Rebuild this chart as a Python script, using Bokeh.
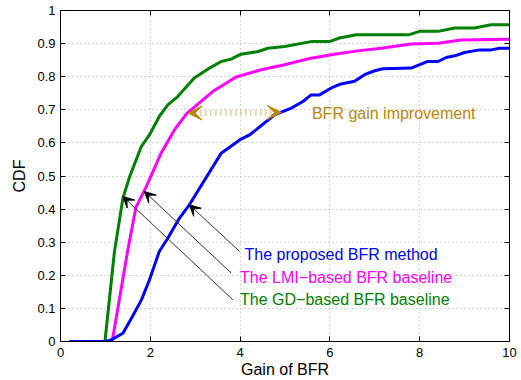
from bokeh.plotting import figure
from bokeh.models import Arrow, VeeHead, Label, LinearAxis, FixedTicker, Range1d
from bokeh.embed import file_html
from bokeh.resources import INLINE

# ---- data ----
x_ticks = [0, 2, 4, 6, 8, 10]
x_tick_labels = ["0", "2", "4", "6", "8", "10"]
y_ticks = [0, 0.1, 0.2, 0.3, 0.4, 0.5, 0.6, 0.7, 0.8, 0.9, 1.0]
y_tick_labels = ["0", "0.1", "0.2", "0.3", "0.4", "0.5", "0.6", "0.7", "0.8", "0.9", "1"]

proposed_x = [0.2, 1.0, 1.13, 1.39, 1.58, 1.80, 1.98, 2.2, 2.39, 2.65, 2.87, 3.58, 3.99,
              4.21, 4.36, 4.77, 4.92, 5.14, 5.40, 5.58, 5.77, 6.03, 6.25, 6.55, 6.77, 7.0,
              7.18, 7.81, 8.18, 8.41, 8.59, 8.78, 9.0, 9.33, 9.59, 9.78, 10.0]
proposed_y = [0, 0, 0.005, 0.025, 0.07, 0.125, 0.186, 0.272, 0.312, 0.373, 0.413, 0.569, 0.609,
              0.624, 0.64, 0.685, 0.693, 0.705, 0.725, 0.745, 0.745, 0.766, 0.778, 0.786, 0.806, 0.818,
              0.824, 0.826, 0.846, 0.846, 0.858, 0.863, 0.873, 0.881, 0.881, 0.886, 0.886]

lmi_x = [0.2, 1.15, 1.31, 1.50, 1.68, 1.91, 2.24, 2.54, 2.82, 3.39, 3.91, 4.47, 4.99, 5.58,
         6.1, 6.62, 7.14, 7.81, 8.41, 8.92, 10.0]
lmi_y = [0, 0, 0.126, 0.277, 0.405, 0.468, 0.569, 0.64, 0.69, 0.755, 0.799, 0.821, 0.836, 0.856,
         0.868, 0.878, 0.886, 0.899, 0.901, 0.911, 0.913]

gd_x = [0.2, 0.99, 1.2, 1.39, 1.54, 1.80, 1.98, 2.2, 2.39, 2.61, 2.98, 3.32, 3.58, 3.80, 4.02,
        4.40, 4.62, 4.99, 5.58, 5.99, 6.21, 6.59, 7.77, 8.0, 8.41, 8.78, 9.22, 9.59, 10.0]
gd_y = [0, 0, 0.27, 0.433, 0.498, 0.589, 0.624, 0.68, 0.715, 0.74, 0.796, 0.826, 0.846, 0.853, 0.868,
        0.876, 0.886, 0.891, 0.906, 0.906, 0.917, 0.927, 0.927, 0.937, 0.937, 0.947, 0.947, 0.957, 0.957]

series_names = ["The proposed BFR method", "The LMI\u2212based BFR baseline", "The GD\u2212based BFR baseline"]
improvement_text = "BFR gain improvement"

# annotation anchors (data coords)
improve_arrow = [(4.92, 0.692), (2.84, 0.69)]
improve_label = (5.6, 0.69)
name_label_pos = [(4.1, 0.262), (4.0, 0.193), (4.0, 0.126)]
pointer_tails = [(3.99, 0.272), (3.80, 0.207), (3.84, 0.126)]
pointer_tips = [(2.87, 0.413), (1.87, 0.453), (1.39, 0.438)]

colors = ["#0000ff", "#ff00ff", "#008000"]
FONT = "Liberation Sans"

p = figure(width=521, height=380, output_backend="svg", toolbar_location=None,
           x_range=Range1d(0, 10), y_range=Range1d(0, 1),
           min_border_left=60, min_border_right=12, min_border_top=10, min_border_bottom=38)
p.background_fill_color = "white"
p.outline_line_color = "black"
p.outline_line_width = 1

# curves (blue drawn on top)
p.line(gd_x, gd_y, line_color=colors[2], line_width=3)
p.line(lmi_x, lmi_y, line_color=colors[1], line_width=3)
p.line(proposed_x, proposed_y, line_color=colors[0], line_width=3)

# axes styling
def style_axis(ax, ticks, labels, show_labels=True, standoff=4):
    ax.ticker = FixedTicker(ticks=ticks)
    ax.major_label_overrides = {t: l for t, l in zip(ticks, labels)}
    ax.major_tick_in = 5
    ax.major_tick_out = 0
    ax.minor_tick_line_color = None
    ax.axis_line_color = "black"
    ax.major_tick_line_color = "black"
    ax.major_label_text_font = FONT
    ax.major_label_text_font_size = "13px" if show_labels else "0px"
    ax.major_label_text_color = "black"
    ax.major_label_standoff = standoff

xa = p.xaxis[0]
ya = p.yaxis[0]
style_axis(xa, x_ticks, x_tick_labels, standoff=6)
style_axis(ya, y_ticks, y_tick_labels, standoff=5)
xa.axis_label = "Gain of BFR"
ya.axis_label = "CDF"
for ax in (xa, ya):
    ax.axis_label_text_font = FONT
    ax.axis_label_text_font_size = "16px"
    ax.axis_label_text_font_style = "normal"
    ax.axis_label_text_color = "black"
xa.axis_label_standoff = 1
ya.axis_label_standoff = 6

top_ax = LinearAxis()
right_ax = LinearAxis()
style_axis(top_ax, x_ticks, [""] * len(x_ticks), show_labels=False, standoff=0)
style_axis(right_ax, y_ticks, [""] * len(y_ticks), show_labels=False, standoff=0)
p.add_layout(top_ax, "above")
p.add_layout(right_ax, "right")

p.xgrid.ticker = FixedTicker(ticks=x_ticks)
p.ygrid.ticker = FixedTicker(ticks=y_ticks)
for g in (p.xgrid, p.ygrid):
    g.grid_line_color = "#b4b4b4"
    g.grid_line_dash = "1 3"
    g.grid_line_width = 1

# brown double arrow
brown = "#b8860b"
(xs, ys), (xe, ye) = improve_arrow
p.add_layout(Arrow(x_start=xs, y_start=ys, x_end=xe, y_end=ye,
                   line_color="#d9b46e", line_width=6, line_dash="1 4",
                   start=VeeHead(size=14, fill_color=brown, line_color=brown),
                   end=VeeHead(size=14, fill_color=brown, line_color=brown)))
p.add_layout(Label(x=improve_label[0], y=improve_label[1], text=improvement_text,
                   text_font=FONT, text_font_size="16px", text_color=brown,
                   text_baseline="middle", text_align="left"))

# pointer arrows + labels
for (tx, ty), (hx, hy) in zip(pointer_tails, pointer_tips):
    p.add_layout(Arrow(x_start=tx, y_start=ty, x_end=hx, y_end=hy,
                       line_color="#333333", line_width=1,
                       end=VeeHead(size=11, fill_color="black", line_color="black")))
for (lx, ly), name, c in zip(name_label_pos, series_names, colors):
    p.add_layout(Label(x=lx, y=ly, text=name, text_font=FONT, text_font_size="16px",
                       text_color=c, text_baseline="middle", text_align="left"))

open("out.html", "w").write(file_html(p, INLINE))
